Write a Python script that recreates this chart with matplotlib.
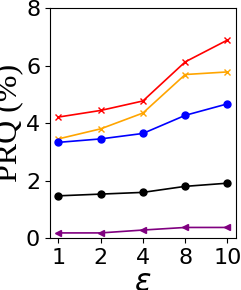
import matplotlib.pyplot as plt

eps_labels = ['1', '2', '4', '8', '10']
red_vals = [4.21, 4.44, 4.77, 6.13, 6.89]
orange_vals = [3.45, 3.80, 4.35, 5.69, 5.78]
blue_vals = [3.33, 3.45, 3.64, 4.27, 4.67]
black_vals = [1.47, 1.53, 1.59, 1.80, 1.91]
purple_vals = [0.18, 0.18, 0.28, 0.37, 0.37]

fig = plt.figure(figsize=(2.41, 2.9), dpi=100)
ax = fig.add_axes([0.207, 0.179, 0.772, 0.793])

x = list(range(len(eps_labels)))
ax.plot(x, red_vals, color='red', marker='x', markersize=5, linewidth=1.2)
ax.plot(x, orange_vals, color='orange', marker='x', markersize=5, linewidth=1.2)
ax.plot(x, blue_vals, color='blue', marker='o', markersize=5, linewidth=1.2)
ax.plot(x, black_vals, color='black', marker='o', markersize=5, linewidth=1.2)
ax.plot(x, purple_vals, color='purple', marker='<', markersize=5, linewidth=1.2)

ax.set_xticks(x)
ax.set_xticklabels(eps_labels)
ax.set_ylim(0, 8)
ax.set_yticks([0, 2, 4, 6, 8])
ax.tick_params(labelsize=16)
ax.set_xlabel(r'$\varepsilon$', fontsize=22, labelpad=0)
ax.set_ylabel('PRQ (%)', fontsize=23, family='Liberation Serif', labelpad=2)

fig.savefig('out.png', dpi=100)
